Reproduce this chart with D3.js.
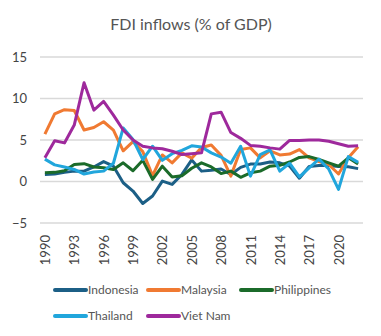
<!DOCTYPE html>
<html>
<head>
<meta charset="utf-8">
<script src="https://cdn.jsdelivr.net/npm/d3@7"></script>
<style>
  html, body { margin: 0; padding: 0; background: #fff; }
  svg { display: block; }
</style>
</head>
<body>
<svg id="chart" width="381" height="336"></svg>
<script>
const years = d3.range(1990, 2023);
const yTicks = [-5, 0, 5, 10, 15];
const xTickLabels = [1990, 1993, 1996, 1999, 2002, 2005, 2008, 2011, 2014, 2017, 2020];
const seriesNames = ["Indonesia", "Malaysia", "Philippines", "Thailand", "Viet Nam"];
const seriesColors = ["#1c5f86", "#f07a32", "#1b6b2a", "#21a6dc", "#9e299c"];

const indonesia = [0.85, 0.9, 1.1, 1.25, 1.25, 1.75, 2.4, 1.85, -0.15, -1.15, -2.65, -1.75, 0.05, -0.35, 0.85, 2.6, 1.25, 1.35, 1.5, 0.85, 1.7, 2.1, 2.1, 2.35, 2.25, 1.85, 0.4, 1.8, 1.92, 1.92, 1.8, 1.78, 1.55];
const malaysia = [5.7, 8.15, 8.65, 8.55, 6.2, 6.5, 7.2, 6.2, 3.7, 4.8, 3.6, 0.7, 3.2, 2.25, 3.45, 2.8, 4.1, 4.4, 3.15, 0.65, 3.85, 4.05, 2.85, 3.7, 3.2, 3.3, 3.85, 2.85, 2.4, 2.05, 0.9, 2.85, 4.2];
const philippines = [1.05, 1.1, 1.3, 2.05, 2.15, 1.75, 1.65, 1.45, 2.25, 1.3, 2.55, 0.25, 1.85, 0.55, 0.7, 1.6, 2.25, 1.75, 0.95, 1.25, 0.5, 1.05, 1.25, 1.85, 1.95, 2.35, 2.9, 3.0, 2.65, 2.25, 1.85, 2.85, 2.1];
const thailand = [2.7, 2.0, 1.75, 1.45, 0.9, 1.15, 1.25, 2.2, 6.45, 5.05, 2.65, 4.25, 2.55, 3.35, 3.75, 4.3, 4.15, 3.45, 2.95, 2.2, 4.25, 0.65, 3.25, 3.8, 1.25, 2.2, 0.55, 1.65, 2.7, 1.5, -0.95, 3.0, 2.3];
const vietnam = [2.85, 4.9, 4.65, 6.8, 11.9, 8.6, 9.65, 8.0, 6.2, 5.0, 4.25, 4.05, 3.95, 3.65, 3.25, 3.35, 3.45, 8.15, 8.35, 5.9, 5.2, 4.35, 4.25, 4.05, 3.9, 4.95, 4.95, 5.0, 5.0, 4.85, 4.55, 4.25, 4.3];
const seriesValues = [indonesia, malaysia, philippines, thailand, vietnam];

const svg = d3.select("#chart");
const font = "Lato, 'Noto Sans', sans-serif";

const x = d3.scalePoint().domain(years).range([40, 363]).padding(0.5);
const y = d3.scaleLinear().domain([-5, 15]).range([223, 57]);

// title
svg.append("text")
  .attr("x", 191).attr("y", 30)
  .attr("text-anchor", "middle")
  .attr("font-family", font)
  .attr("font-size", 16)
  .attr("fill", "#555")
  .text("FDI inflows (% of GDP)");

// grid lines
svg.append("g").selectAll("line")
  .data(yTicks).join("line")
  .attr("x1", 40).attr("x2", 363)
  .attr("y1", d => y(d)).attr("y2", d => y(d))
  .attr("stroke", "#d9d9d9").attr("stroke-width", 1.5);

// y axis
const yAxis = d3.axisLeft(y).tickValues(yTicks).tickSize(0).tickPadding(0)
  .tickFormat(d => d < 0 ? "\u2212" + Math.abs(d) : d);
const gy = svg.append("g").attr("transform", "translate(27,0)").call(yAxis);
gy.select(".domain").remove();
gy.selectAll("text").attr("font-family", font).attr("font-size", 13).attr("fill", "#444");

// x axis
const xAxis = d3.axisBottom(x).tickValues(xTickLabels).tickSize(0).tickPadding(0);
const gx = svg.append("g").attr("transform", "translate(0,233)").call(xAxis);
gx.select(".domain").remove();
gx.selectAll("text")
  .attr("font-family", font).attr("font-size", 13).attr("fill", "#444")
  .attr("transform", "rotate(-90)")
  .attr("text-anchor", "end")
  .attr("x", -2).attr("y", 0).attr("dy", "0.35em");

// lines
const line = d3.line().x((d, i) => x(years[i])).y(d => y(d));
svg.append("g").selectAll("path")
  .data(seriesValues).join("path")
  .attr("d", line)
  .attr("fill", "none")
  .attr("stroke", (d, i) => seriesColors[i])
  .attr("stroke-width", 3)
  .attr("stroke-linejoin", "round");

// legend
const legendPos = [[55, 290], [148, 290], [241, 290], [55, 316], [148, 316]];
const lg = svg.append("g").selectAll("g")
  .data(seriesNames).join("g")
  .attr("transform", (d, i) => `translate(${legendPos[i][0]},${legendPos[i][1]})`);
lg.append("line")
  .attr("x1", 0).attr("x2", 31).attr("y1", 0).attr("y2", 0)
  .attr("stroke", (d, i) => seriesColors[i])
  .attr("stroke-width", 4).attr("stroke-linecap", "round");
lg.append("text")
  .attr("x", 33).attr("y", 0).attr("dy", "0.35em")
  .attr("font-family", font).attr("font-size", 12).attr("fill", "#555")
  .text(d => d);
</script>
</body>
</html>
